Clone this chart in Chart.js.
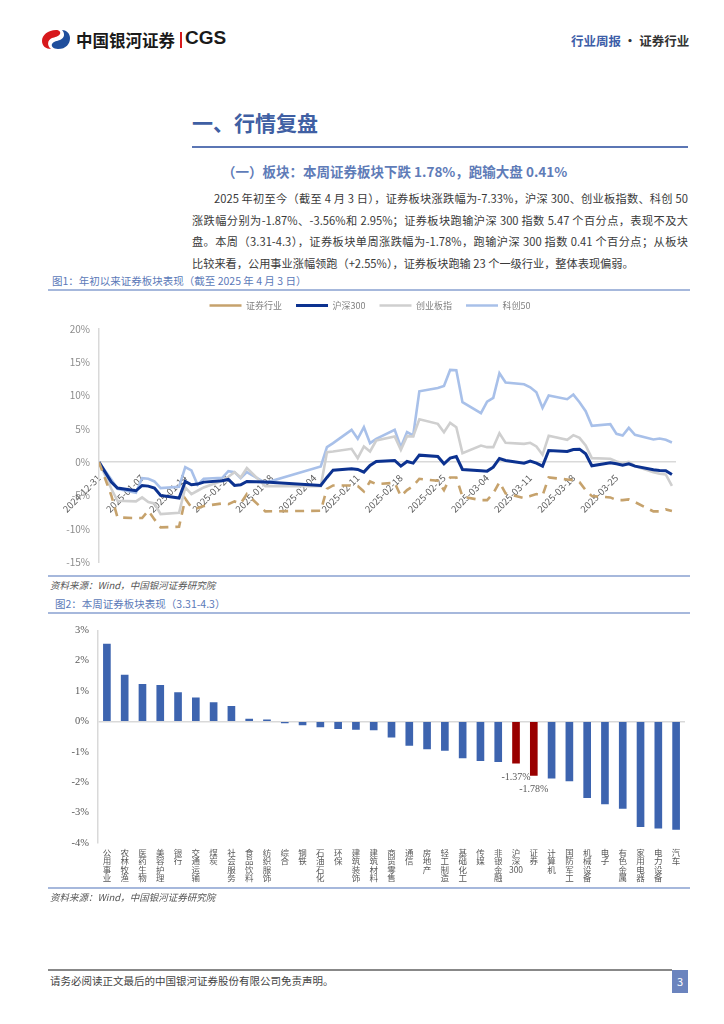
<!DOCTYPE html>
<html>
<head>
<meta charset="utf-8">
<script src="https://cdn.jsdelivr.net/npm/chart.js@4.4.1/dist/chart.umd.min.js"></script>
<style>
  body { margin: 0; background: #fff; font-family: "Noto Sans CJK SC", "Noto Sans", sans-serif; }
  #page { position: relative; width: 724px; height: 1024px; overflow: hidden; }
  .abs { position: absolute; white-space: nowrap; }
  .hline { position: absolute; }
  .para { position: absolute; left: 192px; width: 496px; font-size: 11.2px; color: #3a3a3a; line-height: 14px; text-align: justify; text-align-last: justify; white-space: nowrap; }
  .cap { position: absolute; font-size: 10.5px; color: #5b79b8; }
  .src { position: absolute; font-size: 9.5px; color: #555; font-style: italic; }
</style>
</head>
<body>
<div id="page">
  <!-- header -->
  <svg class="abs" style="left:40px;top:28px" width="32" height="22" viewBox="0 0 32 22">
    <path d="M16 2 C8 2 2 7 2 13 C2 18 6 21 11 21 C7 18 7 12 12 10 C15 9 18 9 20 6 C21 4 19 2 16 2 Z" fill="#d7191c"/>
    <path d="M18 21 C26 21 30 16 30 10 C30 5 26 2 22 2 C25 5 25 10 20 12 C17 13 14 13 12 16 C11 18 13 21 18 21 Z" fill="#1f4e9c"/>
  </svg>
  <div class="abs" style="left:76px;top:28px;font-size:16.5px;font-weight:700;color:#1a1a1a;">中国银河证券</div>
  <div class="abs" style="left:180px;top:32px;width:1.5px;height:16px;background:#d7191c;"></div>
  <div class="abs" style="left:185px;top:27px;font-family:'Liberation Sans',sans-serif;font-size:19px;font-weight:700;color:#1a1a1a;">CGS</div>
  <div class="abs" style="left:571px;top:31px;font-size:12.5px;font-weight:700;"><span style="color:#3d5ea8">行业周报</span><span style="color:#333"> · 证券行业</span></div>

  <!-- section title -->
  <div class="abs" style="left:192px;top:107px;font-size:21px;font-weight:700;color:#3f5fa3;">一、行情复盘</div>
  <div class="hline" style="left:192px;top:146px;width:496px;height:2px;background:#5b76b4;"></div>
  <div class="abs" style="left:222px;top:161px;font-size:13.5px;font-weight:700;color:#5f7cb8;">（一）板块：本周证券板块下跌 1.78%，跑输大盘 0.41%</div>

  <div class="para" style="top:191px;left:214px;width:474px;">2025 年初至今（截至 4 月 3 日），证券板块涨跌幅为-7.33%，沪深 300、创业板指数、科创 50</div>
  <div class="para" style="top:213px;">涨跌幅分别为-1.87%、-3.56%和 2.95%；证券板块跑输沪深 300 指数 5.47 个百分点，表现不及大</div>
  <div class="para" style="top:234px;">盘。本周（3.31-4.3），证券板块单周涨跌幅为-1.78%，跑输沪深 300 指数 0.41 个百分点；从板块</div>
  <div class="para" style="top:256px;text-align-last:left;">比较来看，公用事业涨幅领跑（+2.55%），证券板块跑输 23 个一级行业，整体表现偏弱。</div>

  <!-- figure 1 -->
  <div class="cap" style="left:52px;top:273px;">图1：年初以来证券板块表现（截至 2025 年 4 月 3 日）</div>
  <div class="hline" style="left:48px;top:289px;width:642px;height:2px;background:#a6b8dc;"></div>
  <canvas id="c1" class="abs" style="left:48px;top:287px;" width="642" height="290"></canvas>
  <div class="hline" style="left:48px;top:575px;width:642px;height:2px;background:#a6b8dc;"></div>
  <div class="src" style="left:50px;top:578px;">资料来源：Wind，中国银河证券研究院</div>

  <!-- figure 2 -->
  <div class="cap" style="left:55px;top:596px;">图2：本周证券板块表现（3.31-4.3）</div>
  <div class="hline" style="left:48px;top:612px;width:642px;height:2px;background:#a6b8dc;"></div>
  <canvas id="c2" class="abs" style="left:48px;top:615px;" width="642" height="273"></canvas>
  <div class="hline" style="left:48px;top:887px;width:642px;height:2px;background:#a6b8dc;"></div>
  <div class="src" style="left:50px;top:890px;">资料来源：Wind，中国银河证券研究院</div>

  <!-- footer -->
  <div class="hline" style="left:48px;top:969px;width:624px;height:1.5px;background:#888;"></div>
  <div class="abs" style="left:50px;top:973px;font-size:10.5px;color:#444;">请务必阅读正文最后的中国银河证券股份有限公司免责声明。</div>
  <div class="abs" style="left:672px;top:970px;width:16px;height:23px;background:#6b84be;color:#fff;font-size:11px;line-height:23px;text-align:center;">3</div>
</div>

<script>
// trading days, 2024-12-31 .. 2025-04-03
const dates = ['2024-12-31','2025-01-02','2025-01-03','2025-01-06','2025-01-07','2025-01-08','2025-01-09','2025-01-10',
  '2025-01-13','2025-01-14','2025-01-15','2025-01-16','2025-01-17','2025-01-20','2025-01-21','2025-01-22','2025-01-23',
  '2025-01-24','2025-01-27','2025-02-05','2025-02-06','2025-02-07','2025-02-10','2025-02-11','2025-02-12','2025-02-13',
  '2025-02-14','2025-02-17','2025-02-18','2025-02-19','2025-02-20','2025-02-21','2025-02-24','2025-02-25','2025-02-26',
  '2025-02-27','2025-02-28','2025-03-03','2025-03-04','2025-03-05','2025-03-06','2025-03-07','2025-03-10','2025-03-11',
  '2025-03-12','2025-03-13','2025-03-14','2025-03-17','2025-03-18','2025-03-19','2025-03-20','2025-03-21','2025-03-24',
  '2025-03-25','2025-03-26','2025-03-27','2025-03-28','2025-03-31','2025-04-01','2025-04-02','2025-04-03'];

// cumulative change, %
const secData = [0, -5.0, -8.3, -8.4, -8.4, -7.3, -8.6, -9.8, -9.7, -5.5, -6.8, -6.9, -6.6, -6.2, -6.3, -5.9, -6.2, -4.8, -7.4,
  -7.3, -4.0, -3.5, -3.5, -3.6, -4.4, -2.9, -3.3, -3.1, -5.1, -4.2, -3.6, -2.5, -2.8, -4.2, -2.3, -2.3, -5.2,
  -5.7, -5.7, -4.7, -3.0, -4.7, -5.4, -5.1, -4.8, -5.0, -2.3, -2.6, -2.7, -3.0, -4.2, -5.1, -5.3, -5.7, -5.7, -5.6, -6.0,
  -7.4, -7.4, -7.1, -7.33];
const hs300Data = [0, -3.0, -3.9, -4.3, -3.5, -3.6, -3.9, -5.0, -5.4, -2.9, -3.4, -3.3, -3.0, -2.8, -2.6, -3.5, -3.4, -2.9, -3.0,
  -3.5, -2.3, -1.2, -1.0, -1.1, -1.5, -0.5, 0.1, 0.25, -0.6, 0.1, -0.15, 1.05, 0.85, -0.25, 0.6, 0.85, -1.1,
  -1.3, -1.35, -0.75, 0.55, 0.25, -0.15, 0.15, -0.15, -0.6, 1.75, 1.6, 1.9, 1.95, 1.25, -0.55, -0.1, -0.25, -0.45, -0.25, -0.6,
  -1.15, -1.25, -1.3, -1.87];
const cybData = [0, -4.0, -5.8, -5.9, -5.3, -6.0, -6.2, -7.8, -7.6, -3.8, -4.8, -4.3, -3.8, -2.8, -2.2, -1.5, -2.3, -0.9, -3.6,
  -3.6, 1.5, 1.6, 2.0, 0.6, 2.35, 1.6, 3.25, 3.85, 1.85, 3.9, 3.85, 6.45, 5.75, 4.5, 5.9, 5.25, 1.35,
  2.5, 2.25, 2.25, 4.35, 2.9, 2.75, 2.9, 2.35, 1.1, 3.95, 3.35, 4.05, 3.65, 2.5, 0.6, 0.5, 0.1, -0.15, 0.05, -0.6,
  -1.5, -1.75, -1.85, -3.56];
const kc50Data = [0, -2.6, -4.0, -4.6, -2.4, -2.5, -2.9, -3.9, -3.7, -0.75, -1.25, -3.4, -2.5, -2.35, -1.35, -1.5, -2.4, -1.5, -3.1,
  -0.65, 2.25, 2.85, 4.85, 3.5, 5.25, 2.85, 3.5, 4.85, 2.25, 4.5, 4.0, 10.65, 11.15, 11.45, 13.85, 13.8, 9.0,
  7.35, 9.1, 9.65, 13.35, 11.95, 11.7, 11.25, 10.5, 8.15, 10.0, 9.45, 10.15, 9.0, 7.65, 5.45, 5.7, 4.25, 4.0, 5.15, 4.1,
  3.4, 3.55, 3.35, 2.95];

// weekly change by industry, %
const cats2 = ['公用事业','农林牧渔','医药生物','美容护理','银行','交通运输','煤炭','社会服务','食品饮料','纺织服饰','综合',
  '钢铁','石油石化','环保','建筑装饰','建筑材料','商贸零售','通信','房地产','轻工制造','基础化工','传媒','非银金融',
  '沪深300','证券','计算机','国防军工','机械设备','电子','有色金属','家用电器','电力设备','汽车'];
const vals2 = [2.55, 1.53, 1.22, 1.19, 0.95, 0.78, 0.62, 0.50, 0.08, 0.05, -0.05,
  -0.11, -0.18, -0.24, -0.26, -0.28, -0.52, -0.79, -0.90, -0.95, -1.20, -1.29, -1.32,
  -1.37, -1.78, -1.87, -1.96, -2.51, -2.71, -2.86, -3.46, -3.51, -3.55];
const highlight = ['沪深300', '证券'];

Chart.defaults.font.family = '"Noto Sans CJK SC", "Noto Sans", sans-serif';

const DAY = 86400000;
const t0 = Date.parse(dates[0]);
const dayIdx = dates.map(d => (Date.parse(d) - t0) / DAY);
const pts = arr => arr.map((v, i) => ({ x: dayIdx[i], y: v }));

// chart 1 - line
new Chart(document.getElementById('c1'), {
  type: 'line',
  data: {
    datasets: [
      { label: '证券行业', data: pts(secData), borderColor: '#c6a26c', backgroundColor: '#c6a26c', borderWidth: 2.6, borderDash: [9, 7] },
      { label: '沪深300', data: pts(hs300Data), borderColor: '#0c3290', backgroundColor: '#0c3290', borderWidth: 3 },
      { label: '创业板指', data: pts(cybData), borderColor: '#cfcfcf', backgroundColor: '#cfcfcf', borderWidth: 2.6 },
      { label: '科创50', data: pts(kc50Data), borderColor: '#a8c0e9', backgroundColor: '#a8c0e9', borderWidth: 2.6 },
    ],
  },
  options: {
    responsive: false,
    animation: false,
    elements: { point: { radius: 0 }, line: { tension: 0 } },
    layout: { padding: { left: 17, right: 15, top: 0, bottom: 0 } },
    plugins: {
      legend: {
        position: 'top',
        labels: { usePointStyle: true, pointStyle: 'line', pointStyleWidth: 32, padding: 14, color: '#808080', font: { size: 9 } },
      },
      // spacer between legend and plot
      title: { display: true, text: '', weight: 500, padding: { top: 0, bottom: 8 }, font: { size: 1, lineHeight: 1 } },
      tooltip: { enabled: false },
    },
    scales: {
      x: {
        type: 'linear',
        position: { y: 0 },
        min: 0,
        max: 93.5,
        grid: { display: false },
        border: { color: '#d9d9d9', width: 1.5 },
        afterBuildTicks: s => { s.ticks = s.ticks.filter(t => t.value % 7 === 0); },
        ticks: {
          stepSize: 7, autoSkip: false, minRotation: 45, maxRotation: 45, padding: 2,
          color: '#595959', font: { size: 9.5 },
          callback: v => new Date(t0 + v * DAY).toISOString().slice(0, 10),
        },
      },
      y: {
        min: -15,
        max: 20,
        grid: { display: false, drawTicks: false },
        border: { color: '#d9d9d9', width: 1.5 },
        ticks: { stepSize: 5, padding: 9, color: '#8c8c8c', font: { size: 10 }, callback: v => v + '%' },
        afterFit: s => { s.width = 34; },
      },
    },
  },
});

// chart 2 - bars
const valueLabels = {
  id: 'valueLabels',
  afterDatasetsDraw(chart) {
    const ctx = chart.ctx;
    const meta = chart.getDatasetMeta(0);
    ctx.save();
    ctx.font = '10px "Liberation Serif", serif';
    ctx.fillStyle = '#595959';
    ctx.textAlign = 'center';
    ctx.textBaseline = 'middle';
    cats2.forEach((c, i) => {
      if (highlight.includes(c)) {
        const el = meta.data[i];
        ctx.fillText(vals2[i].toFixed(2) + '%', el.x, el.y + 14);
      }
    });
    ctx.restore();
  },
};

new Chart(document.getElementById('c2'), {
  type: 'bar',
  data: {
    labels: cats2.map(c => c.match(/\d+|./g)), // vertical labels, one char per line
    datasets: [{
      data: vals2,
      backgroundColor: cats2.map(c => highlight.includes(c) ? '#990000' : '#3d64af'),
      barThickness: 7,
    }],
  },
  options: {
    responsive: false,
    animation: false,
    layout: { padding: { left: 0, right: 5, top: 12, bottom: 0 } },
    plugins: { legend: { display: false }, tooltip: { enabled: false } },
    scales: {
      x: {
        grid: { display: false, drawTicks: false },
        border: { display: false },
        ticks: { autoSkip: false, maxRotation: 0, padding: 5, color: '#595959', font: { size: 8.5, lineHeight: '8.6px' } },
        afterFit: s => { s.height = 45; },
      },
      y: {
        min: -4,
        max: 3,
        grid: { color: c => (c.tick && c.tick.value === 0 ? '#d9d9d9' : 'transparent'), lineWidth: 1.5, drawTicks: false },
        border: { color: '#d9d9d9', width: 1.5 },
        ticks: { stepSize: 1, padding: 9, color: '#595959', font: { size: 10.5, family: '"Liberation Serif", serif' }, callback: v => v + '%' },
        afterFit: s => { s.width = 50; },
      },
    },
  },
  plugins: [valueLabels],
});
</script>
</body>
</html>
